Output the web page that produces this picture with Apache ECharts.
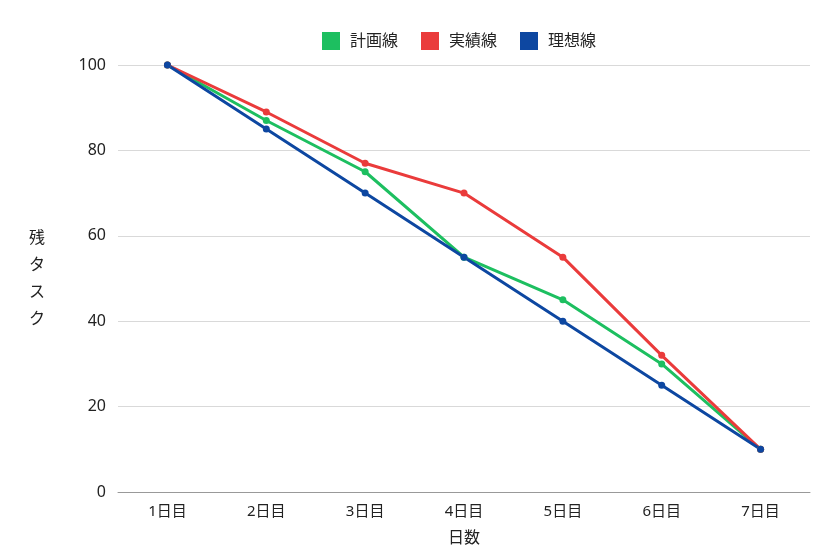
<!DOCTYPE html>
<html><head><meta charset="utf-8">
<script src="https://cdn.jsdelivr.net/npm/echarts@6/dist/echarts.min.js"></script>
<style>html,body{margin:0;padding:0;background:#fff}#c{width:840px;height:560px}</style>
</head><body><div id="c"></div>
<script>
const categories = ['1日目','2日目','3日目','4日目','5日目','6日目','7日目'];
const planValues = [100, 87, 75, 55, 45, 30, 10];
const actualValues = [100, 89, 77, 70, 55, 32, 10];
const idealValues = [100, 85, 70, 55, 40, 25, 10];
const seriesNames = ['計画線','実績線','理想線'];
const yTicks = [0, 20, 40, 60, 80, 100];

const font = '"Noto Sans", "Noto Sans CJK JP", sans-serif';
const colors = ['#1dbf60', '#ea3b3b', '#0d47a1'];
const chart = echarts.init(document.getElementById('c'));
function mk(name, data, color){
  return {name, type:'line', data, symbol:'circle', symbolSize:7,
    lineStyle:{width:3,color}, itemStyle:{color}, z: 2};
}
chart.setOption({
  animation:false,
  textStyle:{fontFamily:font},
  legend:{top:27, left:317, icon:'rect', itemWidth:18, itemHeight:18, itemGap:23,
    textStyle:{fontSize:16, color:'#222', fontFamily:font, padding:[0,0,0,5]},
    data:seriesNames},
  grid:{left:118, right:30, top:65, bottom:68},
  xAxis:{type:'category', data:categories, boundaryGap:true,
    name:'日数', nameLocation:'middle', nameGap:38,
    nameTextStyle:{fontSize:16, color:'#222', fontFamily:font},
    axisLine:{lineStyle:{color:'#999'}}, axisTick:{show:false},
    axisLabel:{fontSize:15, color:'#222', margin:12, fontFamily:font}},
  yAxis:{type:'value', min:yTicks[0], max:yTicks[yTicks.length-1], interval:20,
    name:'残\nタ\nス\nク', nameLocation:'middle', nameGap:73, nameRotate:0,
    nameTextStyle:{fontSize:16, color:'#222', lineHeight:27, fontFamily:font},
    axisLine:{show:false}, axisTick:{show:false},
    splitLine:{lineStyle:{color:'#d9d9d9'}},
    axisLabel:{fontSize:16, color:'#222', margin:12, fontFamily:font}},
  series:[mk(seriesNames[0], planValues, colors[0]), mk(seriesNames[1], actualValues, colors[1]), mk(seriesNames[2], idealValues, colors[2])]
});
</script></body></html>
